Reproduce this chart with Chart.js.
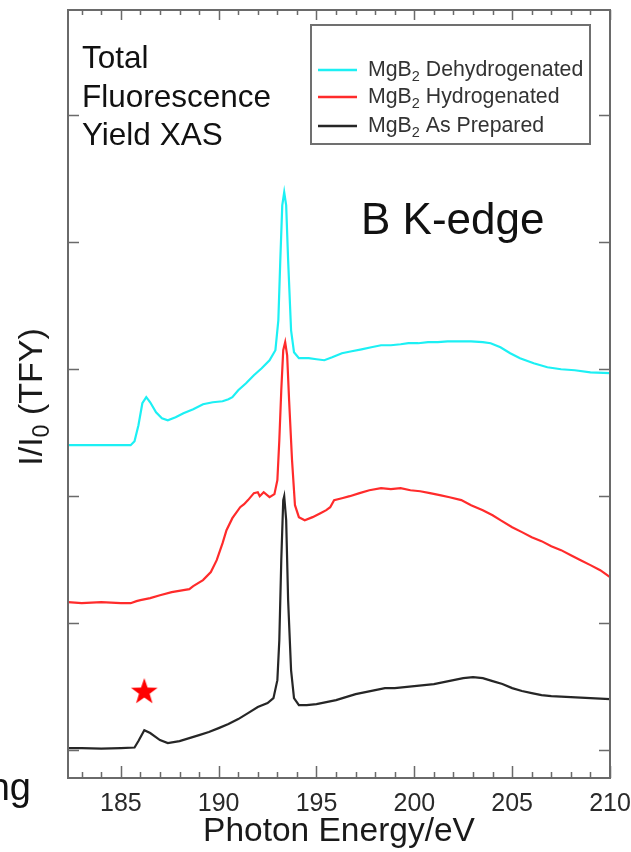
<!DOCTYPE html>
<html>
<head>
<meta charset="utf-8">
<script src="https://cdn.jsdelivr.net/npm/chart.js@4.4.1/dist/chart.umd.min.js"></script>
<style>
  html, body { margin: 0; padding: 0; background: #ffffff; }
  #wrap { width: 631px; height: 852px; position: relative; }
</style>
</head>
<body>
<div id="wrap"><canvas id="xas" width="631" height="852"></canvas></div>
<script>
// B K-edge total fluorescence yield spectra (I/I0), traces stacked with vertical offsets
const energyDehydrogenated = [182.3, 185.5, 185.7, 185.9, 186.1, 186.3, 186.5, 186.8, 187.1, 187.4, 187.8, 188.2, 188.7, 189.2, 189.7, 190.2, 190.5, 190.7, 191.0, 191.4, 191.8, 192.2, 192.6, 192.9, 193.05, 193.15, 193.25, 193.35, 193.45, 193.55, 193.7, 193.85, 194.1, 194.6, 195.0, 195.4, 195.8, 196.3, 196.8, 197.3, 197.8, 198.3, 198.8, 199.3, 199.7, 200.2, 200.7, 201.2, 201.7, 202.2, 202.9, 203.5, 203.9, 204.4, 204.9, 205.4, 206.1, 206.8, 207.5, 208.2, 209.0, 210.0];
const tfyDehydrogenated = [2.402, 2.402, 2.433, 2.559, 2.732, 2.780, 2.740, 2.661, 2.614, 2.598, 2.622, 2.654, 2.685, 2.724, 2.740, 2.748, 2.764, 2.780, 2.835, 2.890, 2.953, 3.008, 3.071, 3.150, 3.386, 3.858, 4.291, 4.394, 4.291, 3.858, 3.307, 3.134, 3.087, 3.087, 3.079, 3.071, 3.094, 3.126, 3.142, 3.157, 3.173, 3.189, 3.189, 3.197, 3.205, 3.205, 3.213, 3.213, 3.220, 3.220, 3.220, 3.213, 3.205, 3.173, 3.126, 3.087, 3.047, 3.016, 3.000, 2.992, 2.976, 2.969];

const energyHydrogenated = [182.3, 183.0, 184.0, 185.0, 185.5, 185.8, 186.0, 186.5, 187.0, 187.6, 188.2, 188.5, 188.7, 189.2, 189.6, 189.9, 190.2, 190.4, 190.7, 191.1, 191.3, 191.5, 191.8, 192.0, 192.1, 192.3, 192.6, 192.85, 193.0, 193.1, 193.2, 193.3, 193.4, 193.5, 193.6, 193.75, 193.9, 194.1, 194.4, 194.8, 195.2, 195.5, 195.7, 195.9, 196.3, 196.7, 197.2, 197.7, 198.3, 198.8, 199.3, 199.8, 200.3, 200.8, 201.3, 201.8, 202.4, 202.9, 203.5, 204.0, 204.4, 205.0, 205.5, 206.0, 206.5, 207.0, 207.5, 208.0, 208.5, 209.0, 209.5, 210.0];
const tfyHydrogenated = [1.165, 1.157, 1.165, 1.157, 1.157, 1.173, 1.181, 1.197, 1.220, 1.244, 1.260, 1.268, 1.291, 1.339, 1.402, 1.496, 1.630, 1.732, 1.827, 1.913, 1.937, 1.969, 2.024, 2.031, 2.000, 2.031, 1.992, 2.016, 2.126, 2.441, 2.835, 3.150, 3.213, 3.110, 2.756, 2.283, 1.929, 1.835, 1.811, 1.835, 1.866, 1.890, 1.913, 1.969, 1.984, 2.000, 2.024, 2.047, 2.063, 2.055, 2.063, 2.047, 2.039, 2.024, 2.008, 1.992, 1.969, 1.929, 1.890, 1.850, 1.811, 1.756, 1.717, 1.677, 1.646, 1.606, 1.575, 1.535, 1.496, 1.457, 1.417, 1.362];

const energyAsPrepared = [182.3, 183.0, 184.0, 185.0, 185.7, 185.9, 186.2, 186.5, 187.0, 187.4, 188.0, 188.5, 189.0, 189.5, 190.0, 190.5, 191.0, 191.5, 192.0, 192.5, 192.8, 193.0, 193.1, 193.2, 193.3, 193.35, 193.45, 193.55, 193.7, 193.85, 194.1, 194.5, 195.0, 195.5, 196.0, 196.5, 197.0, 197.5, 198.0, 198.5, 199.0, 199.5, 200.0, 200.5, 201.0, 201.5, 202.0, 202.5, 203.0, 203.5, 204.0, 204.5, 205.0, 205.5, 206.0, 206.5, 207.0, 208.0, 209.0, 210.0];
const tfyAsPrepared = [0.016, 0.016, 0.012, 0.016, 0.020, 0.071, 0.157, 0.134, 0.079, 0.055, 0.071, 0.094, 0.118, 0.142, 0.173, 0.205, 0.244, 0.291, 0.339, 0.370, 0.409, 0.551, 0.866, 1.496, 1.969, 2.000, 1.811, 1.181, 0.630, 0.409, 0.354, 0.354, 0.362, 0.378, 0.394, 0.417, 0.441, 0.457, 0.472, 0.488, 0.488, 0.496, 0.504, 0.512, 0.520, 0.535, 0.551, 0.567, 0.575, 0.567, 0.543, 0.520, 0.488, 0.465, 0.449, 0.433, 0.425, 0.417, 0.409, 0.402];

// pre-edge feature marker
const starEnergy = [186.2];
const starLevel = [0.465];

const seriesLabels = ['Dehydrogenated', 'Hydrogenated', 'As Prepared'];
const seriesColors = ['#1cf0f4', '#ff2b2b', '#262626'];
const xTickValues = [185, 190, 195, 200, 205, 210];
const yTickValues = [0, 1, 2, 3, 4, 5];

function toPoints(xs, ys) {
  return xs.map((x, i) => ({ x: x, y: ys[i] }));
}

// filled five-pointed star used as a point style
function makeStar(r, color) {
  const c = document.createElement('canvas');
  const s = Math.ceil(r * 2 + 2);
  c.width = s; c.height = s;
  const g = c.getContext('2d');
  g.fillStyle = color;
  g.beginPath();
  for (let i = 0; i < 10; i++) {
    const rad = i % 2 === 0 ? r : r * 0.40;
    const a = -Math.PI / 2 + i * Math.PI / 5;
    const px = s / 2 + rad * Math.cos(a);
    const py = s / 2 + 1 + rad * Math.sin(a);
    if (i === 0) g.moveTo(px, py); else g.lineTo(px, py);
  }
  g.closePath();
  g.fill();
  return c;
}

const FONT = '"Liberation Sans", Arial, Helvetica, sans-serif';

// draw text with an inline subscript piece: parts = [[text, isSub], ...]
function drawRich(ctx, parts, x, y, size, color) {
  ctx.fillStyle = color;
  ctx.textBaseline = 'alphabetic';
  ctx.textAlign = 'left';
  let cx = x;
  for (const [t, sub] of parts) {
    const fs = sub ? size * 0.68 : size;
    ctx.font = fs + 'px ' + FONT;
    ctx.fillText(t, cx, y + (sub ? size * 0.22 : 0));
    cx += ctx.measureText(t).width;
  }
  return cx - x;
}
function richWidth(ctx, parts, size) {
  let w = 0;
  for (const [t, sub] of parts) {
    ctx.font = (sub ? size * 0.68 : size) + 'px ' + FONT;
    w += ctx.measureText(t).width;
  }
  return w;
}

const framePlugin = {
  id: 'frameAndNotes',
  afterDraw(chart) {
    const ctx = chart.ctx;
    const a = chart.chartArea;
    const xs = chart.scales.x, ys = chart.scales.y;
    ctx.save();

    // axis frame
    ctx.strokeStyle = '#6a6a6a';
    ctx.lineWidth = 2;
    ctx.strokeRect(a.left, a.top, a.right - a.left, a.bottom - a.top);

    // x ticks (bottom and top, inward), minor every 1 eV
    ctx.lineWidth = 1.5;
    ctx.beginPath();
    for (let e = Math.ceil(xs.min); e <= xs.max; e++) {
      const px = Math.round(xs.getPixelForValue(e)) + 0.5;
      const len = (e % 5 === 0) ? 12 : 6;
      ctx.moveTo(px, a.bottom); ctx.lineTo(px, a.bottom - len);
      ctx.moveTo(px, a.top); ctx.lineTo(px, a.top + (e % 5 === 0 ? 10 : 5));
    }
    // y ticks (left and right, inward)
    for (const v of yTickValues) {
      const py = Math.round(ys.getPixelForValue(v)) + 0.5;
      ctx.moveTo(a.left, py); ctx.lineTo(a.left + 11, py);
      ctx.moveTo(a.right, py); ctx.lineTo(a.right - 11, py);
    }
    ctx.stroke();

    // y-axis title with subscript
    const yParts = [['I/I', false], ['0', true], [' (TFY)', false]];
    const ySize = 34;
    const yw = richWidth(ctx, yParts, ySize);
    ctx.save();
    ctx.translate(42, 397);
    ctx.rotate(-Math.PI / 2);
    drawRich(ctx, yParts, -yw / 2, 0, ySize, '#1a1a1a');
    ctx.restore();

    // annotation texts
    ctx.fillStyle = '#111111';
    ctx.textAlign = 'left';
    ctx.textBaseline = 'alphabetic';
    ctx.font = '31.5px ' + FONT;
    ctx.fillText('Total', 82, 68);
    ctx.fillText('Fluorescence', 82, 107);
    ctx.fillText('Yield XAS', 82, 145);
    ctx.font = '44px ' + FONT;
    ctx.fillText('B K-edge', 361, 234);

    ctx.font = '38px ' + FONT;
    ctx.textAlign = 'right';
    ctx.fillText('ng', 31, 800);

    // legend box
    ctx.strokeStyle = '#707070';
    ctx.lineWidth = 2;
    ctx.strokeRect(311, 25, 279, 119);
    const rowY = [70, 97, 126];
    for (let i = 0; i < seriesLabels.length; i++) {
      ctx.strokeStyle = seriesColors[i];
      ctx.lineWidth = 2.5;
      ctx.beginPath();
      ctx.moveTo(318, rowY[i]); ctx.lineTo(357, rowY[i]);
      ctx.stroke();
      drawRich(ctx, [['MgB', false], ['2', true], [' ' + seriesLabels[i], false]], 368, rowY[i] + 6, 21.3, '#333333');
    }
    ctx.restore();
  }
};

const chart = new Chart(document.getElementById('xas'), {
  type: 'line',
  data: {
    datasets: [
      { label: seriesLabels[0], data: toPoints(energyDehydrogenated, tfyDehydrogenated), borderColor: seriesColors[0], borderWidth: 2.2, pointRadius: 0, tension: 0 },
      { label: seriesLabels[1], data: toPoints(energyHydrogenated, tfyHydrogenated), borderColor: seriesColors[1], borderWidth: 2.2, pointRadius: 0, tension: 0 },
      { label: seriesLabels[2], data: toPoints(energyAsPrepared, tfyAsPrepared), borderColor: seriesColors[2], borderWidth: 2.2, pointRadius: 0, tension: 0 },
      { label: 'marker', data: toPoints(starEnergy, starLevel), showLine: false, pointStyle: makeStar(14, '#ff0000'), pointRadius: 14 }
    ]
  },
  options: {
    responsive: false,
    animation: false,
    devicePixelRatio: 1,
    layout: { autoPadding: false, padding: { top: 10, right: 21, left: 0, bottom: 0 } },
    plugins: { legend: { display: false }, tooltip: { enabled: false } },
    scales: {
      x: {
        type: 'linear',
        min: 182.3,
        max: 210,
        afterBuildTicks: s => { s.ticks = xTickValues.map(v => ({ value: v })); },
        afterFit: s => { s.height = 74; s.paddingLeft = 0; s.paddingRight = 0; s.paddingTop = 0; s.paddingBottom = 0; },
        grid: { display: false, drawTicks: false },
        border: { display: false },
        ticks: { color: '#2a2a2a', font: { family: FONT, size: 25 }, padding: 11, maxRotation: 0 },
        title: { display: true, text: 'Photon Energy/eV', color: '#1a1a1a', font: { family: FONT, size: 33.5 }, padding: { top: 0, bottom: 0 } }
      },
      y: {
        type: 'linear',
        min: -0.22,
        max: 5.83,
        afterBuildTicks: s => { s.ticks = yTickValues.map(v => ({ value: v })); },
        afterFit: s => { s.width = 68; s.paddingTop = 0; s.paddingBottom = 0; s.paddingLeft = 0; s.paddingRight = 0; },
        grid: { display: false, drawTicks: false },
        border: { display: false },
        ticks: { display: false }
      }
    }
  },
  plugins: [framePlugin]
});
</script>
</body>
</html>
